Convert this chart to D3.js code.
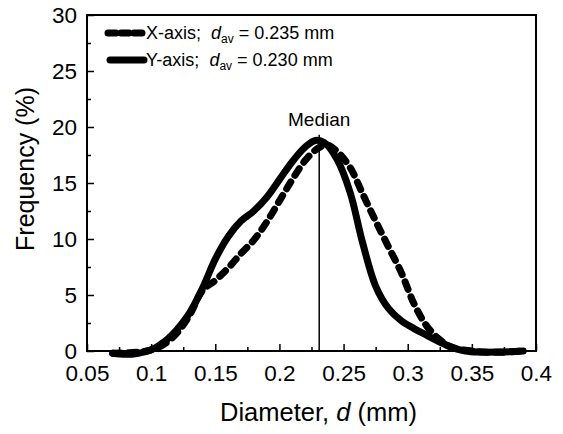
<!DOCTYPE html>
<html>
<head>
<meta charset="utf-8">
<script src="https://cdn.jsdelivr.net/npm/d3@7/dist/d3.min.js"></script>
<style>
  body { margin: 0; background: #fff; }
  text { font-family: Arial, "Liberation Sans", sans-serif; fill: #000; }
</style>
</head>
<body>
<svg id="chart" width="563" height="434"></svg>
<script>
// diameter (mm) and frequency (%)
const xAxisD = [0.07, 0.09, 0.10, 0.11, 0.12, 0.13, 0.14, 0.15, 0.16, 0.17, 0.18, 0.19, 0.20, 0.21, 0.22, 0.23, 0.237, 0.245, 0.255, 0.265, 0.275, 0.285, 0.295, 0.305, 0.315, 0.325, 0.335, 0.35, 0.36, 0.375, 0.39];
const xAxisF = [-0.2, -0.1, 0.1, 0.6, 1.6, 3.2, 5.4, 6.3, 7.4, 8.7, 9.9, 11.5, 13.4, 15.3, 17.0, 18.1, 18.4, 17.8, 16.4, 14.0, 11.6, 9.3, 7.0, 4.2, 2.2, 1.0, 0.3, 0.0, -0.1, -0.1, 0.0];

const yAxisD = [0.07, 0.08, 0.09, 0.10, 0.11, 0.12, 0.13, 0.14, 0.15, 0.16, 0.17, 0.18, 0.19, 0.20, 0.21, 0.22, 0.228, 0.235, 0.245, 0.255, 0.265, 0.275, 0.285, 0.295, 0.305, 0.315, 0.325, 0.335, 0.345, 0.355, 0.37, 0.39];
const yAxisF = [-0.2, -0.3, -0.2, 0.1, 0.8, 1.9, 3.4, 5.6, 8.2, 10.2, 11.6, 12.5, 13.7, 15.3, 16.9, 18.2, 18.8, 18.6, 17.1, 14.2, 9.6, 5.8, 3.8, 2.7, 2.0, 1.4, 0.8, 0.3, 0.0, -0.1, -0.1, 0.0];

const medianD = 0.231;
const medianF = 19.3;

const xTicks = [0.05, 0.1, 0.15, 0.2, 0.25, 0.3, 0.35, 0.4];
const yTicks = [0, 5, 10, 15, 20, 25, 30];

const legendNames = ["X-axis;", "Y-axis;"];
const legendValues = ["0.235", "0.230"];

const svg = d3.select('#chart');
const margin = { top: 15, right: 27, bottom: 83, left: 87 };
const w = 563 - margin.left - margin.right;
const h = 434 - margin.top - margin.bottom;

const x = d3.scaleLinear().domain([0.05, 0.4]).range([0, w]);
const y = d3.scaleLinear().domain([0, 30]).range([h, 0]);

const g = svg.append('g').attr('transform', `translate(${margin.left},${margin.top})`);

// minor + major ticks, pointing inwards
const xMinor = d3.range(0.075, 0.4, 0.05);
const yMinor = d3.range(2.5, 30, 5);

g.append('g')
    .attr('transform', `translate(0,${h})`)
    .call(d3.axisBottom(x).tickValues(xMinor).tickSize(-4).tickFormat(''))
    .call(a => a.select('.domain').remove());
g.append('g')
    .call(d3.axisLeft(y).tickValues(yMinor).tickSize(-4).tickFormat(''))
    .call(a => a.select('.domain').remove());

const xAx = g.append('g')
    .attr('transform', `translate(0,${h})`)
    .call(d3.axisBottom(x).tickValues(xTicks).tickSize(-7).tickPadding(14).tickFormat(d3.format('')));
xAx.select('.domain').remove();
xAx.selectAll('text').attr('font-size', 22.5).attr('font-family', 'Arial, "Liberation Sans", sans-serif');

const yAx = g.append('g')
    .call(d3.axisLeft(y).tickValues(yTicks).tickSize(-7).tickPadding(10));
yAx.select('.domain').remove();
yAx.selectAll('text').attr('font-size', 22.5).attr('font-family', 'Arial, "Liberation Sans", sans-serif');

g.selectAll('.tick line').attr('stroke', '#000').attr('stroke-width', 1.5);

// frame
g.append('rect')
    .attr('width', w)
    .attr('height', h)
    .attr('fill', 'none')
    .attr('stroke', '#000')
    .attr('stroke-width', 2);

const line = d3.line()
    .x(d => x(d[0]))
    .y(d => y(d[1]))
    .curve(d3.curveCatmullRom.alpha(0.5));

const xSeries = xAxisD.map((d, i) => [d, xAxisF[i]]);
const ySeries = yAxisD.map((d, i) => [d, yAxisF[i]]);

g.append('path')
    .datum(ySeries)
    .attr('d', line)
    .attr('fill', 'none')
    .attr('stroke', '#000')
    .attr('stroke-width', 7)
    .attr('stroke-linecap', 'round');

g.append('path')
    .datum(xSeries)
    .attr('d', line)
    .attr('fill', 'none')
    .attr('stroke', '#000')
    .attr('stroke-width', 7)
    .attr('stroke-linecap', 'round')
    .attr('stroke-dasharray', '8,7.8');

// median marker
g.append('line')
    .attr('x1', x(medianD)).attr('x2', x(medianD))
    .attr('y1', y(0)).attr('y2', y(medianF))
    .attr('stroke', '#000')
    .attr('stroke-width', 1.5);

g.append('text')
    .attr('x', x(medianD))
    .attr('y', y(medianF) - 9)
    .attr('text-anchor', 'middle')
    .attr('font-size', 19)
    .text('Median');

// legend
const leg = g.selectAll('g.legend')
    .data(legendNames)
    .enter()
    .append('g')
    .attr('class', 'legend')
    .attr('transform', (d, i) => `translate(0,${18 + i * 27})`);

leg.append('line')
    .attr('x1', (d, i) => 21 + i * 2)
    .attr('x2', (d, i) => 55 + i * 2)
    .attr('stroke', '#000')
    .attr('stroke-width', 7)
    .attr('stroke-linecap', 'round')
    .attr('stroke-dasharray', (d, i) => i === 0 ? '8,5' : null);

const lt = leg.append('text')
    .attr('x', 59)
    .attr('y', 6)
    .attr('font-size', 18)
    .attr('xml:space', 'preserve');
lt.append('tspan').text(d => d + '  ');
lt.append('tspan').attr('font-style', 'italic').text('d');
lt.append('tspan').attr('font-size', 12).attr('dy', 4).text('av');
lt.append('tspan').attr('dy', -4).text((d, i) => ` = ${legendValues[i]} mm`);

// axis titles
const xt = svg.append('text')
    .attr('x', margin.left + w / 2 + 7)
    .attr('y', 421)
    .attr('text-anchor', 'middle')
    .attr('font-size', 25.5)
    .attr('xml:space', 'preserve');
xt.append('tspan').text('Diameter, ');
xt.append('tspan').attr('font-style', 'italic').text('d');
xt.append('tspan').text(' (mm)');

svg.append('text')
    .attr('transform', `translate(34,${margin.top + h / 2 - 14}) rotate(-90)`)
    .attr('text-anchor', 'middle')
    .attr('font-size', 25)
    .text('Frequency (%)');
</script>
</body>
</html>
